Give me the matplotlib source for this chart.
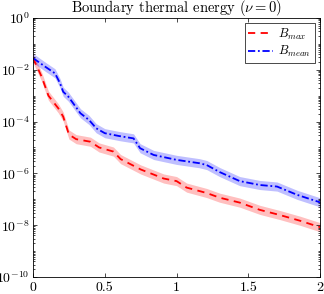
import numpy as np
import matplotlib
matplotlib.use("Agg")
import matplotlib.pyplot as plt
from matplotlib.ticker import LogLocator, NullFormatter

plt.rcParams['font.family'] = 'serif'
plt.rcParams['font.serif'] = ['cmr10', 'DejaVu Serif']
plt.rcParams['mathtext.fontset'] = 'cm'
plt.rcParams['axes.formatter.use_mathtext'] = True

# data (log10 values)
x_max = [0.0, 0.06, 0.107, 0.176, 0.21, 0.25, 0.30, 0.40, 0.46, 0.56, 0.61, 0.75, 0.91, 1.0, 1.07, 1.21, 1.30, 1.44, 1.58, 1.72, 1.86, 2.0]
log_max = [-1.55, -2.27, -3.0, -3.49, -3.81, -4.5, -4.68, -4.78, -5.0, -5.16, -5.45, -5.85, -6.2, -6.3, -6.55, -6.76, -6.94, -7.13, -7.41, -7.61, -7.83, -8.08]
x_mean = [0.0, 0.084, 0.153, 0.188, 0.21, 0.246, 0.33, 0.39, 0.44, 0.50, 0.60, 0.70, 0.746, 0.84, 1.0, 1.16, 1.21, 1.30, 1.44, 1.58, 1.70, 1.84, 2.0]
log_mean = [-1.55, -1.88, -2.14, -2.52, -2.85, -3.04, -3.68, -3.94, -4.26, -4.45, -4.56, -4.65, -5.03, -5.29, -5.48, -5.61, -5.68, -5.95, -6.3, -6.45, -6.51, -6.83, -7.12]
band_factor = 1.5

xm = np.array(x_max); ym = 10 ** np.array(log_max)
xn = np.array(x_mean); yn = 10 ** np.array(log_mean)

fig = plt.figure(figsize=(3.24, 2.94), dpi=100)
ax = fig.add_axes([0.102, 0.058, 0.886, 0.881])

ax.fill_between(xm, ym / band_factor, ym * band_factor, color='red', alpha=0.25, lw=0)
ax.fill_between(xn, yn / band_factor, yn * band_factor, color='blue', alpha=0.25, lw=0)
ax.plot(xm, ym, color='red', ls=(0, (4, 3)), lw=1.3, label=r'$B_{max}$')
ax.plot(xn, yn, color='blue', ls=(0, (4, 1.5, 1, 1.5)), lw=1.3, label=r'$B_{mean}$')

ax.set_yscale('log')
ax.set_xlim(0, 2)
ax.set_ylim(1e-10, 1e0)
ax.set_xticks([0, 0.5, 1, 1.5, 2])
ax.set_xticklabels(['0', '0.5', '1', '1.5', '2'])
ax.set_yticks([1e0, 1e-2, 1e-4, 1e-6, 1e-8, 1e-10])
ax.yaxis.set_minor_locator(LogLocator(base=10, subs=np.arange(1, 10), numticks=20))
ax.yaxis.set_minor_formatter(NullFormatter())
ax.tick_params(which='both', direction='in', top=True, right=True, labelsize=10, width=0.5)
ax.tick_params(axis='y', pad=2.5)
ax.tick_params(which='major', length=3)
ax.tick_params(which='minor', length=1.5)
for s in ax.spines.values():
    s.set_linewidth(0.6)

ax.set_title(r'Boundary thermal energy ($\nu = 0$)', fontsize=10.5, pad=2)
leg = ax.legend(loc='upper right', fontsize=9, fancybox=False, edgecolor='black',
                framealpha=1, handlelength=2.0, borderpad=0.3, labelspacing=0.2,
                handletextpad=0.4, borderaxespad=0.4)
leg.get_frame().set_linewidth(0.5)

fig.savefig('out.png', dpi=100)
